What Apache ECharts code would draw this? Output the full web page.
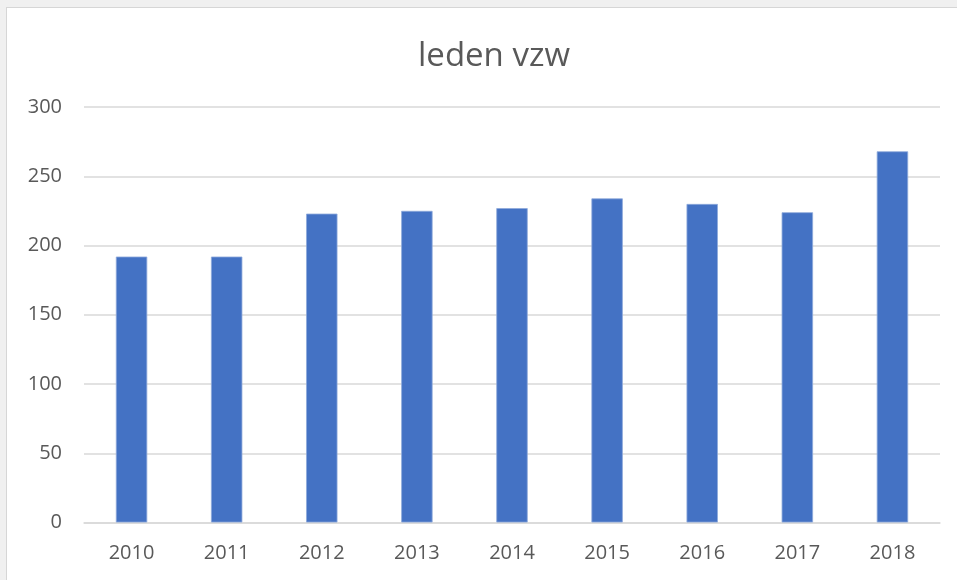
<!DOCTYPE html>
<html>
<head>
<meta charset="utf-8">
<script src="https://cdn.jsdelivr.net/npm/echarts@6/dist/echarts.min.js"></script>
<style>
  html, body { margin: 0; padding: 0; background: #f0f0f0; width: 957px; height: 580px; overflow: hidden; }
  #frame { position: absolute; left: 6px; top: 7px; width: 970px; height: 600px; background: #ffffff; border: 1px solid #d6d6d6; }
  #chart { position: absolute; left: 0; top: 0; width: 957px; height: 580px; }
</style>
</head>
<body>
<div id="frame"></div>
<div id="chart"></div>
<script>
const titleText = 'leden vzw';
const years = ['2010', '2011', '2012', '2013', '2014', '2015', '2016', '2017', '2018'];
const members = [192, 192, 223, 225, 227, 234, 230, 224, 268];
const yTicks = [0, 50, 100, 150, 200, 250, 300];

const chart = echarts.init(document.getElementById('chart'), null, { renderer: 'canvas' });
chart.setOption({
  backgroundColor: 'transparent',
  animation: false,
  title: {
    text: titleText,
    left: 489,
    top: 35,
    textAlign: 'center',
    textStyle: { fontFamily: 'Open Sans', fontSize: 33, fontWeight: 'normal', color: '#595959' }
  },
  grid: { left: 84, right: 17, top: 107, bottom: 57.5, containLabel: false },
  xAxis: {
    type: 'category',
    data: years,
    axisLine: { show: true, lineStyle: { color: '#d9d9d9', width: 1.5 } },
    axisTick: { show: false },
    axisLabel: { fontFamily: 'Open Sans', fontSize: 20, color: '#595959', margin: 21 }
  },
  yAxis: {
    type: 'value',
    min: yTicks[0],
    max: yTicks[yTicks.length - 1],
    interval: 50,
    axisLine: { show: false },
    axisTick: { show: false },
    splitLine: { lineStyle: { color: '#d9d9d9', width: 1.5 } },
    axisLabel: { fontFamily: 'Open Sans', fontSize: 20, color: '#595959', margin: 22 }
  },
  series: [{
    type: 'bar',
    data: members,
    barWidth: '33%',
    itemStyle: { color: '#4472C4', borderColor: '#8eaadb', borderWidth: 0.8 }
  }]
});
</script>
</body>
</html>
